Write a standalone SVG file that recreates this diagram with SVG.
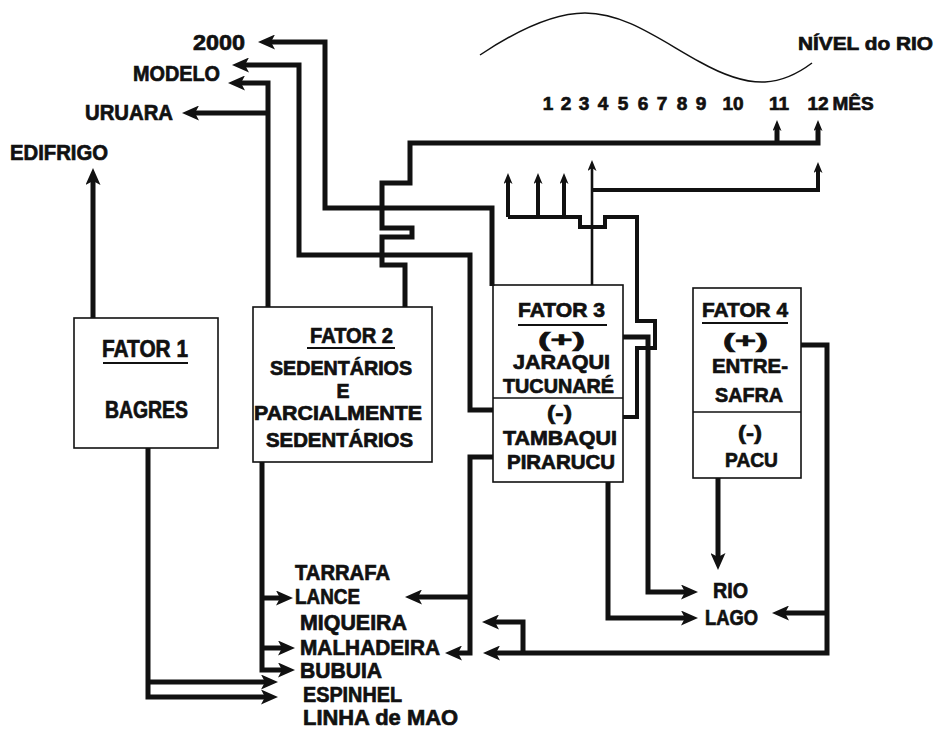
<svg xmlns="http://www.w3.org/2000/svg" width="935" height="729" viewBox="0 0 935 729">
<style>
text{font-family:"Liberation Sans Narrow","Liberation Sans","DejaVu Sans Condensed",sans-serif;font-weight:bold;fill:#111;stroke:#111;stroke-width:0.7}
.lbl{font-size:22px}
.f2{font-size:19.5px}
.mon{font-size:19px}
.f3{font-size:20px}
.f4{font-size:21px}
.box{fill:#fff;stroke:#111;stroke-width:1.6}
.ul{stroke:#111;stroke-width:2}
.c{fill:none;stroke:#111;stroke-width:5;stroke-linejoin:miter}
.cm{fill:none;stroke:#111;stroke-width:4}
.ct{fill:none;stroke:#111;stroke-width:2.6}
.big{marker-end:url(#ah)}
.sm{marker-end:url(#as)}
</style>
<defs>
<marker id="ah" markerUnits="userSpaceOnUse" viewBox="0 0 17 15" markerWidth="17" markerHeight="15" refX="7" refY="7.5" orient="auto">
<path d="M0,0 L17,7.5 L0,15 L4,7.5 Z" fill="#111"/>
</marker>
<marker id="as" markerUnits="userSpaceOnUse" viewBox="0 0 11 9" markerWidth="11" markerHeight="9" refX="4" refY="4.5" orient="auto">
<path d="M0,0 L11,4.5 L0,9 L3,4.5 Z" fill="#111"/>
</marker>
</defs>

<g id="river-level">
<path d="M480,55 C510,35 550,13 585,13 C625,13 660,40 700,62 C725,76 745,83 765,82 C785,81 800,72 812,63" fill="none" stroke="#111" stroke-width="1.5"/>
<text class="mon" x="798" y="50" textLength="135" lengthAdjust="spacingAndGlyphs">NÍVEL do RIO</text>
</g>

<g id="months" text-anchor="middle">
<text class="mon" x="548" y="110">1</text>
<text class="mon" x="566" y="110">2</text>
<text class="mon" x="584" y="110">3</text>
<text class="mon" x="603" y="110">4</text>
<text class="mon" x="623" y="110">5</text>
<text class="mon" x="643" y="110">6</text>
<text class="mon" x="662" y="110">7</text>
<text class="mon" x="682" y="110">8</text>
<text class="mon" x="701" y="110">9</text>
<text class="mon" x="733" y="110">10</text>
<text class="mon" x="779" y="110">11</text>
<text class="mon" x="818" y="110">12</text>
<text class="mon" x="853" y="110">MÊS</text>
</g>

<g id="outputs">
<text class="lbl" x="193" y="50" textLength="52" lengthAdjust="spacingAndGlyphs">2000</text>
<text class="lbl" x="133" y="81" textLength="87" lengthAdjust="spacingAndGlyphs">MODELO</text>
<text class="lbl" x="85" y="120" textLength="88" lengthAdjust="spacingAndGlyphs">URUARA</text>
<text class="lbl" x="10" y="160" textLength="98" lengthAdjust="spacingAndGlyphs">EDIFRIGO</text>
</g>

<g id="fator1">
<rect class="box" x="74" y="318" width="144" height="130"/>
<text x="102" y="357" style="font-size:24px" textLength="86" lengthAdjust="spacingAndGlyphs">FATOR 1</text>
<line class="ul" x1="103" y1="363" x2="188" y2="363"/>
<text x="105" y="418" style="font-size:23px" textLength="83" lengthAdjust="spacingAndGlyphs">BAGRES</text>
</g>

<g id="fator2">
<rect class="box" x="253" y="307" width="179" height="155"/>
<text class="lbl" x="310" y="343" textLength="83" lengthAdjust="spacingAndGlyphs">FATOR 2</text>
<line class="ul" x1="307" y1="348" x2="395" y2="348"/>
<text class="f2" x="270" y="375" textLength="142" lengthAdjust="spacingAndGlyphs">SEDENTÁRIOS</text>
<text class="f2" x="343" y="397.5" text-anchor="middle">E</text>
<text class="f2" x="254" y="420" textLength="168" lengthAdjust="spacingAndGlyphs">PARCIALMENTE</text>
<text class="f2" x="266" y="447" textLength="147" lengthAdjust="spacingAndGlyphs">SEDENTÁRIOS</text>
</g>

<g id="fator3">
<rect class="box" x="493" y="285" width="130" height="197"/>
<line class="box" x1="493" y1="398" x2="623" y2="398"/>
<text class="f3" x="518" y="317" textLength="87" lengthAdjust="spacingAndGlyphs">FATOR 3</text>
<line class="ul" x1="518" y1="325" x2="607" y2="325"/>
<text x="538" y="347" style="font-size:21px" textLength="47" lengthAdjust="spacingAndGlyphs">(+)</text>
<text class="f3" x="513" y="369" textLength="97" lengthAdjust="spacingAndGlyphs">JARAQUI</text>
<text class="f3" x="503" y="393" textLength="111" lengthAdjust="spacingAndGlyphs">TUCUNARÉ</text>
<text x="547" y="420" style="font-size:21px" textLength="25" lengthAdjust="spacingAndGlyphs">(-)</text>
<text class="f3" x="503" y="445" textLength="114" lengthAdjust="spacingAndGlyphs">TAMBAQUI</text>
<text class="f3" x="507" y="469" textLength="108" lengthAdjust="spacingAndGlyphs">PIRARUCU</text>
</g>

<g id="fator4">
<rect class="box" x="693" y="288" width="108" height="190"/>
<line class="box" x1="693" y1="412" x2="801" y2="412"/>
<text class="f4" x="702" y="317" textLength="86" lengthAdjust="spacingAndGlyphs">FATOR 4</text>
<line class="ul" x1="702" y1="323" x2="788" y2="323"/>
<text x="723" y="348" style="font-size:21px" textLength="45" lengthAdjust="spacingAndGlyphs">(+)</text>
<text class="f4" x="712" y="373" textLength="76" lengthAdjust="spacingAndGlyphs">ENTRE-</text>
<text class="f4" x="715" y="402" textLength="68" lengthAdjust="spacingAndGlyphs">SAFRA</text>
<text x="738" y="440" style="font-size:21px" textLength="24" lengthAdjust="spacingAndGlyphs">(-)</text>
<text class="f4" x="725" y="467" textLength="53" lengthAdjust="spacingAndGlyphs">PACU</text>
</g>

<g id="gear">
<text class="lbl" x="295" y="580" textLength="95" lengthAdjust="spacingAndGlyphs">TARRAFA</text>
<text class="lbl" x="295" y="604" textLength="65" lengthAdjust="spacingAndGlyphs">LANCE</text>
<text class="lbl" x="300" y="630" textLength="107" lengthAdjust="spacingAndGlyphs">MIQUEIRA</text>
<text class="lbl" x="300" y="655" textLength="140" lengthAdjust="spacingAndGlyphs">MALHADEIRA</text>
<text class="lbl" x="300" y="678" textLength="82" lengthAdjust="spacingAndGlyphs">BUBUIA</text>
<text class="lbl" x="303" y="702" textLength="99" lengthAdjust="spacingAndGlyphs">ESPINHEL</text>
<text class="lbl" x="303" y="725" textLength="155" lengthAdjust="spacingAndGlyphs">LINHA de MAO</text>
</g>

<g id="habitat">
<text class="lbl" x="713" y="598" textLength="35" lengthAdjust="spacingAndGlyphs">RIO</text>
<text class="lbl" x="705" y="625" textLength="53" lengthAdjust="spacingAndGlyphs">LAGO</text>
</g>

<g id="connectors">
<path class="c big" d="M492,286 V208 H325 V42 H268"/>
<path class="c big" d="M493,410 H470 V255 H299 V65 H242"/>
<path class="c big" d="M268,307 V83 H238"/>
<path class="c big" d="M268,113 H192"/>
<path class="c big" d="M93,318 V178"/>
<path class="c sm" d="M405,307 V265 H382 V237 H412 V228 H382 V183 H410 V143 H818 V127"/>
<path class="c sm" d="M777,143 V127"/>
<path class="cm" d="M508,217 H580 V227 H605 V217 H637 V321 H655 V348 H637 V417 H623"/>
<path class="cm sm" d="M508,217 V180"/>
<path class="cm sm" d="M538,217 V180"/>
<path class="cm sm" d="M564,217 V180"/>
<path class="ct sm" d="M592,285 V167"/>
<path class="cm sm" d="M592,190 H818 V169"/>
<path class="c big" d="M623,337 H648 V592 H688"/>
<path class="c big" d="M608,482 V618 H688"/>
<path class="c big" d="M718,478 V560"/>
<path class="c big" d="M801,345 H827 V653 H493"/>
<path class="c big" d="M827,613 H782"/>
<path class="c big" d="M523,653 V622 H492"/>
<path class="c big" d="M493,457 H470 V653 H455"/>
<path class="c big" d="M470,597 H415"/>
<path class="c big" d="M262,462 V670 H285"/>
<path class="c big" d="M262,598 H283"/>
<path class="c big" d="M262,648 H285"/>
<path class="c big" d="M148,448 V697 H268"/>
<path class="c big" d="M148,682 H268"/>
</g>
</svg>
